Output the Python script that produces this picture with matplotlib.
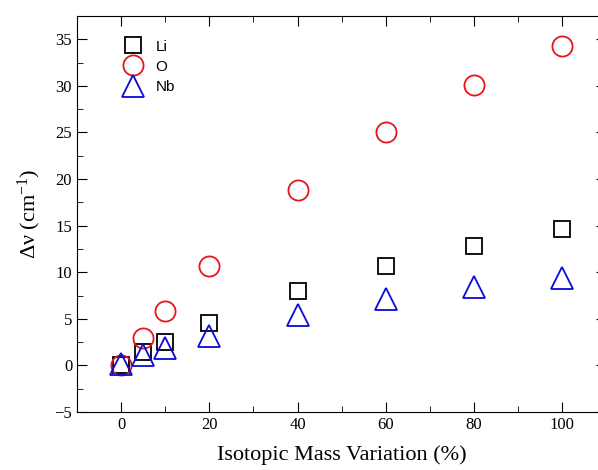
import numpy as np
import matplotlib.pyplot as plt
from matplotlib.ticker import MultipleLocator

plt.rcParams['font.family'] = 'Liberation Serif'
plt.rcParams['mathtext.fontset'] = 'stix'
plt.rcParams['mathtext.default'] = 'regular'

variation = [0, 5, 10, 20, 40, 60, 80, 100]
li_shift = [0.0, 1.4, 2.5, 4.6, 8.0, 10.7, 12.8, 14.6]
o_shift = [0.0, 2.9, 5.8, 10.7, 18.8, 25.1, 30.1, 34.3]
nb_shift = [0.2, 1.1, 1.9, 3.2, 5.4, 7.1, 8.4, 9.4]

fig = plt.figure(figsize=(5.98, 4.70), dpi=100)
ax = fig.add_axes([0.1288, 0.1234, 0.885, 0.8426])

ax.plot(variation, li_shift, ls='none', marker='s', ms=12, mfc='none', mec='black', mew=1.3, label='Li')
ax.plot(variation, o_shift, ls='none', marker='o', ms=14.5, mfc='none', mec='#e8141c', mew=1.3, label='O')
ax.plot(variation, nb_shift, ls='none', marker='^', ms=16, mfc='none', mec='#0a0ad8', mew=1.3, label='Nb')

ax.set_xlim(-10, 110)
ax.set_ylim(-5, 37.5)
ax.xaxis.set_major_locator(MultipleLocator(20))
ax.xaxis.set_minor_locator(MultipleLocator(10))
ax.yaxis.set_major_locator(MultipleLocator(5))
ax.yaxis.set_minor_locator(MultipleLocator(2.5))
ax.tick_params(which='both', direction='in', top=True, right=True, labelsize=12)
ax.tick_params(which='major', length=7)
ax.tick_params(which='minor', length=4)
ax.spines['right'].set_visible(False)

ax.set_xlabel('Isotopic Mass Variation (%)', fontsize=16, labelpad=9)
ax.set_ylabel('Δν (cm$^{-1}$)', fontsize=16, labelpad=8)

ax.legend(loc='upper left', bbox_to_anchor=(0.05, 0.975), frameon=False,
          prop={'family': 'Liberation Sans', 'size': 11}, handletextpad=0.5,
          labelspacing=0.4)

fig.savefig('out.png', dpi=100)
